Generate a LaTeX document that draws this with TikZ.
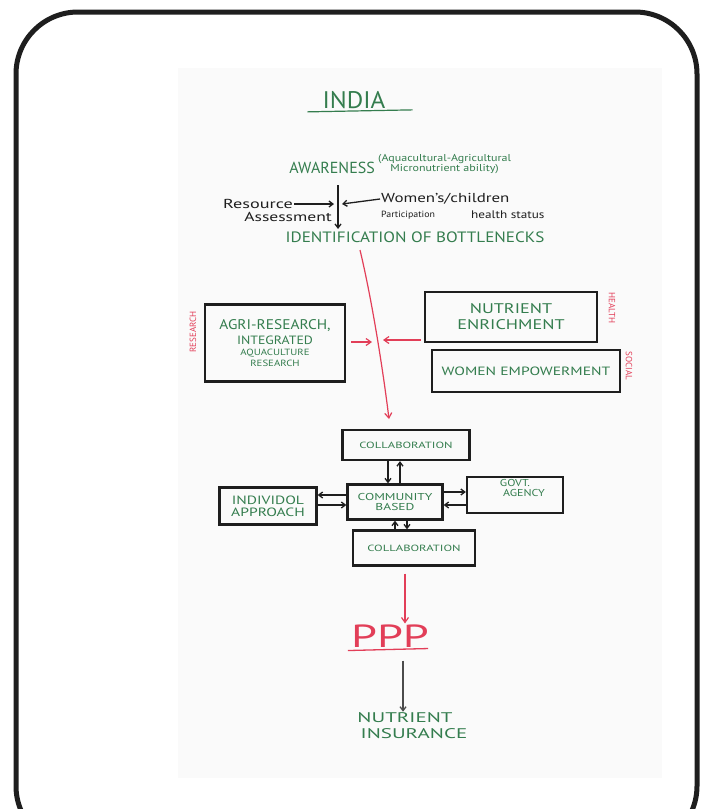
\documentclass[tikz,border=0pt]{standalone}
\usepackage{fontspec}
\setmainfont{PT Sans}
\usepackage{graphicx}
\usepackage{xcolor}
\definecolor{ink}{RGB}{30,30,30}
\definecolor{pen}{RGB}{52,125,78}
\definecolor{redpen}{RGB}{226,62,88}
\definecolor{paper}{RGB}{250,250,250}
\usepackage{tikz}
\usetikzlibrary{arrows.meta,positioning,calc}
\newcommand{\fs}[1]{\fontsize{#1}{#1}\selectfont}
\newcommand{\wide}[2]{\scalebox{#1}[1]{#2}}
\tikzset{
  box/.style={draw=ink,line width=2.2pt,inner sep=2pt,align=center,%
    text=pen,font=\fs{11}},
  label/.style={inner sep=1pt,align=center},
  flow/.style={-{Straight Barb[length=4pt,width=6pt]},line width=1.3pt,draw=ink},
  redflow/.style={-{Straight Barb[length=5pt,width=7pt]},line width=1.2pt,draw=redpen},
  side/.style={text=redpen,font=\fs{9},inner sep=0pt},
}

\begin{document}
\begin{tikzpicture}[x=1pt,y=-1pt]
\useasboundingbox (0,0) rectangle (712,809);
\clip (0,0) rectangle (712,809);
\fill[white] (0,0) rectangle (712,809);
\fill[paper] (178,68) rectangle (662,778);
\draw[line width=5pt,draw=ink,rounded corners=62pt] (16,12) rectangle (697,848);

% title and awareness
\node[label,text=pen,font=\fs{24}] (india) at (354,100) {\wide{1.05}{INDIA}};
\draw[pen,line width=1.2pt] ([xshift=-14pt,yshift=-2pt]india.south west) -- ([xshift=26pt,yshift=0pt]india.south east);
\node[label,text=pen,font=\fs{16},anchor=east] (aware) at (376,168) {AWARENESS};
\node[label,text=pen,font=\fs{10},anchor=west] (awnote) at (377,164) {\wide{1.2}{(Aquacultural-Agricultural}\\\wide{1.2}{Micronutrient ability)}};

\coordinate (vtop) at (338,185);
\coordinate (vbot) at (338,229);
\coordinate (hitL) at (334,204);
\coordinate (hitR) at (342,204);
\node[label,text=ink,font=\fs{13},anchor=east] (res1) at (294,204) {\wide{1.4}{Resource}};
\node[label,text=ink,font=\fs{13},anchor=east] (res2) at (333,217) {\wide{1.35}{Assessment}};
\node[label,text=ink,font=\fs{13},anchor=west] (wom) at (380,199) {\wide{1.3}{Women's/children}};
\node[label,text=ink,font=\fs{9},anchor=west] (part) at (380,215) {\wide{1.1}{Participation}};
\node[label,text=ink,font=\fs{11},anchor=west] (hstat) at (470,215) {\wide{1.2}{health status}};
\draw[flow] (vtop) -- (vbot);
\draw[flow] (res1.east) -- (hitL);
\draw[flow] (wom.west) -- (hitR);
\node[label,text=pen,font=\fs{15}] (identif) at (415,237) {\wide{1.14}{IDENTIFICATION OF BOTTLENECKS}};

% research / health / social
\node[box,minimum width=140pt,minimum height=77pt] (agri) at (275,343) {{\fs{14}\wide{1.1}{AGRI-RESEARCH,}}\\[4pt]{\fs{12}\wide{1.15}{INTEGRATED}}\\{\fs{9}\wide{1.2}{AQUACULTURE}}\\{\fs{9}\wide{1.2}{RESEARCH}}};
\node[box,minimum width=172pt,minimum height=50pt,font=\fs{14}] (nutr) at (511,317) {\wide{1.3}{NUTRIENT}\\[2pt]\wide{1.3}{ENRICHMENT}};
\node[box,minimum width=188pt,minimum height=42pt,font=\fs{12}] (women) at (526,371) {\wide{1.3}{WOMEN EMPOWERMENT}};
\node[side,rotate=90] (resl) at (193,332) {RESEARCH};
\node[side,rotate=-90] (health) at (612,308) {HEALTH};
\node[side,rotate=-90] (social) at (629,366) {SOCIAL};

\coordinate (rtop) at (360,250);
\coordinate (rbot) at (389,419);
\coordinate (mL) at (372,342);
\coordinate (mR) at (383,340);
\coordinate (rR) at (421,340);
\draw[redflow] (rtop) .. controls (372,300) and (383,370) .. (rbot);
\draw[redflow] ([xshift=5pt,yshift=1pt]agri.east) -- (mL);
\draw[redflow] (rR) -- (mR);

% community block
\node[box,minimum width=127pt,minimum height=30pt,font=\fs{9}] (coltop) at (406,445) {\wide{1.4}{COLLABORATION}};
\node[box,minimum width=95pt,minimum height=35pt,font=\fs{10}] (comm) at (395,502) {\wide{1.35}{COMMUNITY}\\\wide{1.35}{BASED}};
\node[box,minimum width=97pt,minimum height=37pt,font=\fs{12}] (indiv) at (268,506) {\wide{1.3}{INDIVIDOL}\\\wide{1.3}{APPROACH}};
\node[box,minimum width=96pt,minimum height=36pt,font=\fs{10}] (govt) at (515,495) {\wide{1.2}{GOVT.}\\\hspace*{18pt}\wide{1.2}{AGENCY}\\[4pt]};
\node[box,minimum width=122pt,minimum height=35pt,font=\fs{9}] (colbot) at (414,548) {\wide{1.4}{COLLABORATION}};

\draw[flow] ([xshift=-7pt]comm.north |- coltop.south) -- ([xshift=-7pt]comm.north);
\draw[flow] ([xshift=5pt]comm.north) -- ([xshift=5pt]comm.north |- coltop.south);
\draw[flow] (comm.south |- colbot.north) -- (comm.south);
\draw[flow] ([xshift=12pt]comm.south) -- ([xshift=12pt]comm.south |- colbot.north);
\draw[flow] ([yshift=7pt]comm.west) -- ([yshift=7pt]comm.west -| indiv.east);
\draw[flow] ([yshift=-3pt]comm.west -| indiv.east) -- ([yshift=-3pt]comm.west);
\draw[flow] ([yshift=10pt]comm.east) -- ([yshift=10pt]comm.east -| govt.west);
\draw[flow] ([yshift=-3pt]comm.east -| govt.west) -- ([yshift=-3pt]comm.east);

% ppp and outcome
\node[label,text=redpen,font=\fs{32}] (ppp) at (390,636) {\wide{1.45}{PPP}};
\draw[redflow] ([xshift=-9pt,yshift=-7pt]colbot.south) -- ([xshift=-9pt]colbot.south |- ppp.north);
\draw[redpen,line width=1.3pt] ([xshift=-2pt,yshift=-2pt]ppp.south west) -- ([xshift=-2pt,yshift=0pt]ppp.south east);
\node[label,text=pen,font=\fs{14}] (insur) at (405,726) {\wide{1.5}{NUTRIENT}\\[2pt]\hspace*{18pt}\wide{1.5}{INSURANCE}};
\draw[flow,draw=ink!80] ([xshift=13pt,yshift=-12pt]ppp.south) -- ([xshift=13pt]ppp.south |- insur.north);
\end{tikzpicture}
\end{document}
